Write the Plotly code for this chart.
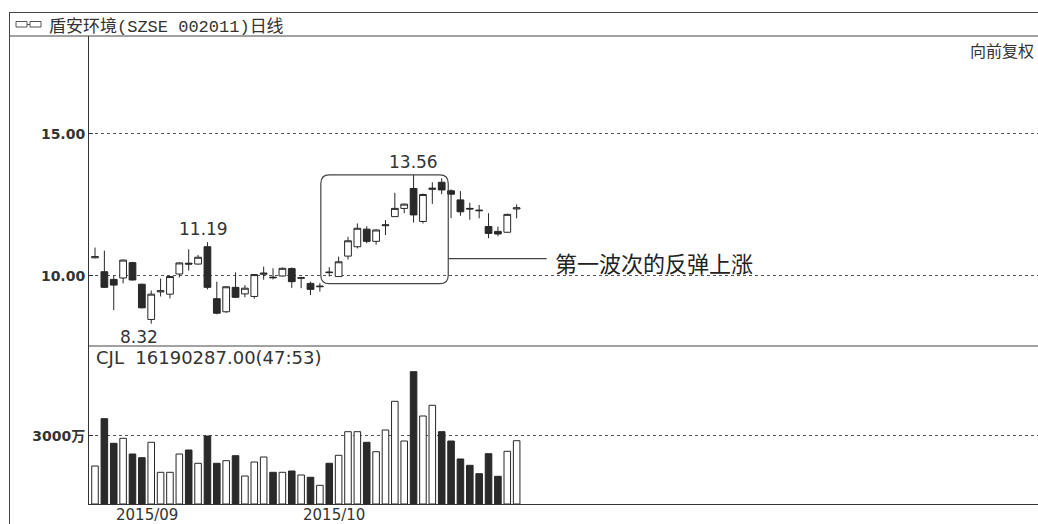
import plotly.graph_objects as go

# ---------------- data ----------------
opens = [10.64, 10.15, 9.88, 9.93, 10.47, 9.71, 8.47, 9.44, 9.36, 10.07,
         10.45, 10.42, 11.03, 9.20, 8.74, 9.60, 9.37, 9.28, 10.06, 9.96,
         10.00, 10.26, 9.92, 9.74, 9.62, 10.14, 9.98, 10.70, 11.03, 11.65,
         11.22, 11.77, 12.09, 12.38, 13.08, 11.92, 13.05, 13.30, 13.00, 12.68,
         12.38, 12.32, 11.74, 11.57, 11.54, 12.36]
highs = [11.00, 10.89, 10.00, 10.58, 10.50, 9.73, 9.49, 9.91, 10.00, 10.48,
         10.94, 10.74, 11.19, 9.80, 9.64, 10.13, 9.68, 10.07, 10.33, 10.27,
         10.30, 10.30, 9.97, 9.80, 9.75, 10.31, 10.68, 11.38, 11.85, 11.75,
         11.65, 11.97, 12.93, 12.55, 13.56, 12.90, 13.30, 13.44, 13.05, 12.99,
         12.58, 12.50, 12.21, 11.74, 12.19, 12.52]
lows = [10.62, 9.58, 8.80, 9.74, 9.84, 8.86, 8.32, 9.28, 9.21, 9.95,
        10.19, 10.40, 9.53, 8.65, 8.70, 9.22, 9.25, 9.20, 9.87, 9.88,
        9.98, 9.58, 9.57, 9.33, 9.45, 9.98, 9.97, 10.58, 10.97, 11.15,
        11.10, 11.44, 12.08, 12.21, 11.88, 11.85, 12.54, 12.88, 12.04, 12.12,
        11.98, 12.03, 11.33, 11.40, 11.52, 12.03]
closes = [10.68, 9.60, 9.68, 10.56, 9.86, 8.88, 9.36, 9.48, 9.98, 10.46,
          10.42, 10.66, 9.60, 8.69, 9.62, 9.25, 9.57, 10.05, 10.10, 9.94,
          10.27, 9.80, 9.94, 9.53, 9.64, 10.12, 10.50, 11.24, 11.68, 11.22,
          11.62, 11.80, 12.38, 12.53, 12.15, 12.87, 13.09, 13.03, 12.88, 12.26,
          12.36, 12.30, 11.50, 11.48, 12.17, 12.40]
volumes = [1669, 3747, 2666, 2886, 2196, 2034, 2710, 1392, 1392, 2196,
           2372, 1788, 2987, 1788, 1902, 2122, 1230, 1845, 2064, 1392,
           1392, 1450, 1274, 1173, 821, 1788, 2139, 3176, 3176, 2710,
           2297, 3250, 4511, 2767, 5811, 3865, 4335, 3176, 2767, 1977,
           1700, 1331, 2209, 1217, 2315, 2780]  # 万股

month_tick_idx = [5, 25]
month_tick_text = ["2015/09", "2015/10"]
price_tick_vals = [10, 15]
price_tick_text = ["10.00", "15.00"]
vol_tick_vals = [3000]
vol_tick_text = ["3000万"]

title_name = "盾安环境"
title_code = "(SZSE 002011)"
title_period = "日线"
adjust_text = "向前复权"
vol_label = "CJL  16190287.00(47:53)"
wave_text = "第一波次的反弹上涨"
wave_start, wave_end = 25, 37   # candle indices enclosed by the box

# ---------------- layout helpers ----------------
W, H = 1038, 524
ML, MR, MT, MB = 89, 0, 36, 20
PW, PH = W - ML - MR, H - MT - MB


def px(x):
    return (x - ML) / PW


def py(y):
    return (H - MB - y) / PH


idx = list(range(len(opens)))
up = [c >= o for o, c in zip(opens, closes)]
INK = "#262626"
NUMFONT = "DejaVu Sans"
CJK = "Noto Sans CJK SC"

fig = go.Figure()

fig.add_trace(go.Candlestick(
    x=idx, open=opens, high=highs, low=lows, close=closes,
    increasing=dict(line=dict(color=INK, width=1), fillcolor="white"),
    decreasing=dict(line=dict(color=INK, width=1), fillcolor="#2a2a2a"),
    whiskerwidth=0, xaxis="x", yaxis="y", showlegend=False, hoverinfo="skip",
))

fig.add_trace(go.Bar(
    x=[i for i in idx if up[i]], y=[volumes[i] for i in idx if up[i]],
    marker=dict(color="white", line=dict(color=INK, width=1)),
    width=0.7, xaxis="x", yaxis="y2", showlegend=False, hoverinfo="skip",
))
fig.add_trace(go.Bar(
    x=[i for i in idx if not up[i]], y=[volumes[i] for i in idx if not up[i]],
    marker=dict(color="#2a2a2a", line=dict(color=INK, width=1)),
    width=0.7, xaxis="x", yaxis="y2", showlegend=False, hoverinfo="skip",
))

x_lo = (ML - 95) / 9.37
x_hi = (W - 95) / 9.37
price_lo, price_hi = 7.535, 18.45
vol_hi = 6940

fig.update_layout(
    width=W, height=H,
    margin=dict(l=ML, r=MR, t=MT, b=MB, pad=0),
    paper_bgcolor="white", plot_bgcolor="white",
    barmode="overlay", boxgap=0.28, boxgroupgap=0,
    xaxis=dict(range=[x_lo, x_hi], anchor="y2", showgrid=False, zeroline=False,
               showticklabels=False, ticks="", showline=True, linecolor="#333",
               linewidth=1, rangeslider=dict(visible=False), fixedrange=True),
    yaxis=dict(domain=[py(346), 1], range=[price_lo, price_hi],
               tickvals=price_tick_vals, ticktext=price_tick_text,
               tickfont=dict(family=NUMFONT, size=14, color="#333", weight="bold"),
               ticks="inside", ticklen=4, tickcolor="#333",
               showgrid=True, gridcolor="#555", griddash="dot", gridwidth=1,
               zeroline=False, showline=True, linecolor="#333", linewidth=1),
    yaxis2=dict(domain=[0, py(346)], range=[0, vol_hi],
                tickvals=vol_tick_vals, ticktext=vol_tick_text,
                tickfont=dict(family=NUMFONT + ", " + CJK, size=14, color="#333", weight="bold"),
                ticks="inside", ticklen=4, tickcolor="#333",
                showgrid=True, gridcolor="#555", griddash="dot", gridwidth=1,
                zeroline=False, showline=True, linecolor="#333", linewidth=1),
)

shapes = []
line = dict(color="#444", width=1)
# frame
shapes.append(dict(type="line", xref="paper", yref="paper", x0=px(9), x1=px(W), y0=py(12.5), y1=py(12.5), line=line))
shapes.append(dict(type="line", xref="paper", yref="paper", x0=px(9), x1=px(W), y0=py(36), y1=py(36), line=line))
shapes.append(dict(type="line", xref="paper", yref="paper", x0=px(9.5), x1=px(9.5), y0=py(12.5), y1=py(H), line=line))
shapes.append(dict(type="line", xref="paper", yref="paper", x0=px(89), x1=px(W), y0=py(346), y1=py(346), line=line))
# title icon
shapes.append(dict(type="rect", xref="paper", yref="paper", x0=px(16), x1=px(27), y0=py(21.5), y1=py(27), line=dict(color="#555", width=1)))
shapes.append(dict(type="rect", xref="paper", yref="paper", x0=px(30), x1=px(41), y0=py(21.5), y1=py(27), line=dict(color="#555", width=1)))
shapes.append(dict(type="line", xref="paper", yref="paper", x0=px(27), x1=px(30), y0=py(24.5), y1=py(24.5), line=dict(color="#555", width=1)))

# rounded box around the first rebound wave
bx0 = wave_start - 0.9
bx1 = wave_end + 0.7
by1 = max(highs[wave_start:wave_end + 1])
by0 = min(lows[wave_start:wave_end + 1]) - 0.24
rx, ry = 0.9, 0.3
path = (f"M {bx0+rx},{by1} L {bx1-rx},{by1} Q {bx1},{by1} {bx1},{by1-ry} "
        f"L {bx1},{by0+ry} Q {bx1},{by0} {bx1-rx},{by0} L {bx0+rx},{by0} "
        f"Q {bx0},{by0} {bx0},{by0+ry} L {bx0},{by1-ry} Q {bx0},{by1} {bx0+rx},{by1} Z")
shapes.append(dict(type="path", xref="x", yref="y", path=path, line=dict(color="#444", width=1.2)))
callout_y = 10.61
shapes.append(dict(type="line", xref="x", yref="y", x0=bx1, x1=48.2, y0=callout_y, y1=callout_y,
                   line=dict(color="#444", width=1.2)))
fig.update_layout(shapes=shapes)

ann = []
ann.append(dict(xref="paper", yref="paper", x=px(47), y=py(24), xanchor="left", yanchor="middle",
                showarrow=False,
                text=(f"{title_name}<span style='font-family:Liberation Mono'>{title_code}</span>{title_period}"),
                font=dict(family=CJK, size=17, color="#333")))
ann.append(dict(xref="paper", yref="paper", x=px(1036), y=py(50), xanchor="right", yanchor="middle",
                showarrow=False, text=adjust_text, font=dict(family=CJK, size=16, color="#333")))
ann.append(dict(xref="paper", yref="paper", x=px(94), y=py(357), xanchor="left", yanchor="middle",
                showarrow=False, text=vol_label, font=dict(family=NUMFONT, size=18, color="#333")))
# price extremes
i_max = highs.index(max(highs))
ann.append(dict(xref="x", yref="y", x=i_max, y=highs[i_max], yanchor="bottom", yshift=1,
                showarrow=False, text=f"{highs[i_max]:.2f}", font=dict(family=NUMFONT, size=17, color="#333")))
i_hi1 = highs.index(max(highs[:20]))
ann.append(dict(xref="x", yref="y", x=i_hi1, y=highs[i_hi1], yanchor="bottom", yshift=1, xshift=-4,
                showarrow=False, text=f"{highs[i_hi1]:.2f}", font=dict(family=NUMFONT, size=17, color="#333")))
i_min = lows.index(min(lows))
ann.append(dict(xref="x", yref="y", x=i_min, y=lows[i_min], yanchor="top", yshift=-1, xshift=-12,
                showarrow=False, text=f"{lows[i_min]:.2f}", font=dict(family=NUMFONT, size=17, color="#333")))
# callout text
ann.append(dict(xref="x", yref="y", x=48.9, y=callout_y, xanchor="left", yanchor="middle", yshift=-3,
                showarrow=False, text=wave_text, font=dict(family=CJK, size=22, color="#222")))
# month labels
for i, t in zip(month_tick_idx, month_tick_text):
    ann.append(dict(xref="x", yref="paper", x=i, y=py(514.5), xanchor="center", yanchor="middle", xshift=5,
                    showarrow=False, text=t, font=dict(family=NUMFONT, size=15, color="#333")))
fig.update_layout(annotations=ann)

fig.write_html("out.html", config=dict(displayModeBar=False),
               post_script="document.body.style.margin='0';document.body.style.overflow='hidden';")
